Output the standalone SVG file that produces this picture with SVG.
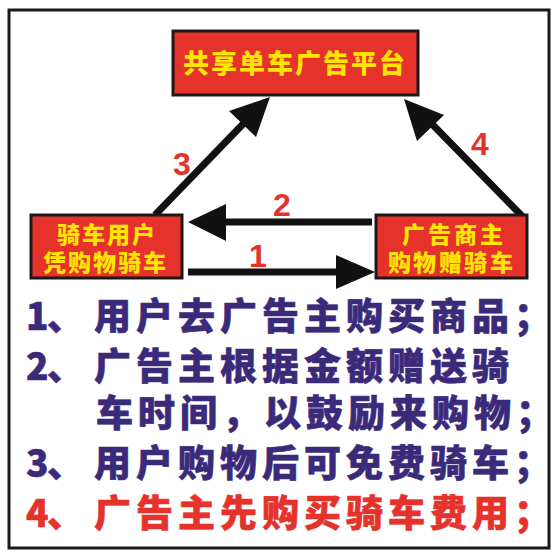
<svg xmlns="http://www.w3.org/2000/svg" width="560" height="560" viewBox="0 0 560 560">
<style>
.box{fill:#e5322b;stroke:#1a1a1a;stroke-width:3}
.yt{fill:#ffe500;font-family:"Noto Sans CJK SC","Noto Sans",sans-serif;font-weight:900}
.num{fill:#e5322b;font-family:"Liberation Sans",Arial,sans-serif;font-weight:bold;text-anchor:middle}
.conn{stroke:#111;stroke-width:7;fill:none}
.head{fill:#111}
.bt{font-family:"Noto Sans CJK SC","Noto Sans",sans-serif;font-weight:900;font-size:37px}
.pu{fill:#3b2a7a;stroke:#3b2a7a;stroke-width:0.6}
.rd{fill:#e5322b;stroke:#e5322b;stroke-width:0.6}
</style>
<rect x="0" y="0" width="560" height="560" fill="#ffffff"/>
<rect x="9" y="10" width="540" height="538" fill="#ffffff" stroke="#1a1a1a" stroke-width="3"/>

<g id="connectors">
  <line class="conn" x1="188" y1="272" x2="338" y2="272"/>
  <polygon class="head" points="375,272 336,255 336,289"/>
  <line class="conn" x1="372" y1="222" x2="224" y2="222"/>
  <polygon class="head" points="188,222 226,204 226,241"/>
  <line class="conn" x1="155" y1="215" x2="244" y2="123"/>
  <polygon class="head" points="270,97 229,111 256,137"/>
  <line class="conn" x1="522" y1="216" x2="430" y2="122"/>
  <polygon class="head" points="404,99 417,141 444,115"/>
  <text class="num" x="258" y="267" font-size="32">1</text>
  <text class="num" x="282" y="216" font-size="32">2</text>
  <text class="num" x="182" y="175" font-size="32">3</text>
  <text class="num" x="480" y="155" font-size="32">4</text>
</g>

<g id="platform">
  <rect class="box" x="173" y="31" width="245" height="64"/>
  <text class="yt" font-size="26" y="73" x="183 211 239 267 295 323 351 379">共享单车广告平台</text>
</g>

<g id="user">
  <rect class="box" x="31" y="215" width="151" height="63"/>
  <text class="yt" font-size="23" y="243" x="57 82 107 132">骑车用户</text>
  <text class="yt" font-size="23" y="271" x="43 68 93 118 143">凭购物骑车</text>
</g>

<g id="advertiser">
  <rect class="box" x="376" y="215" width="151" height="63"/>
  <text class="yt" font-size="23" y="243" x="402 428 454 480">广告商主</text>
  <text class="yt" font-size="23" y="271" x="388 413 439 464 490">购物赠骑车</text>
</g>

<g id="notes">
  <text class="bt pu" y="330" x="26 47 94 136 178 220 262 304 346 388 430 472 514">1、用户去广告主购买商品；</text>
  <text class="bt pu" y="380" x="26 47 94 136 178 220 262 304 346 388 430 472">2、广告主根据金额赠送骑</text>
  <text class="bt pu" y="427" x="96 138 180 222 264 306 348 390 432 474 516">车时间，以鼓励来购物；</text>
  <text class="bt pu" y="477" x="26 47 94 136 178 220 262 304 346 388 430 472 514">3、用户购物后可免费骑车；</text>
  <text class="bt rd" y="527" x="26 47 94 136 178 220 262 304 346 388 430 472 514">4、广告主先购买骑车费用；</text>
</g>
</svg>
